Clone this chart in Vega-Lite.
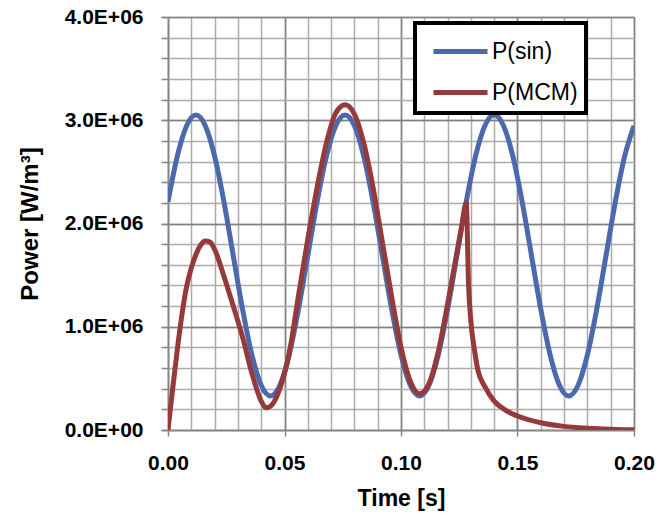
{
  "$schema": "https://vega.github.io/schema/vega-lite/v6.json",
  "width": 466,
  "height": 413,
  "autosize": {"type": "none"},
  "padding": {"left": 168, "top": 17, "right": 38, "bottom": 92},
  "background": "white",
  "config": {
    "view": {"stroke": null},
    "font": "Liberation Sans",
    "legend": {"strokeWidth": 4}
  },
  "data": {
    "values": [
      {"t": 0.000, "P": 2210500, "s": "P(sin)"},
      {"t": 0.004, "P": 2651700, "s": "P(sin)"},
      {"t": 0.008, "P": 2946500, "s": "P(sin)"},
      {"t": 0.012, "P": 3050000, "s": "P(sin)"},
      {"t": 0.016, "P": 2946500, "s": "P(sin)"},
      {"t": 0.020, "P": 2651700, "s": "P(sin)"},
      {"t": 0.024, "P": 2210500, "s": "P(sin)"},
      {"t": 0.028, "P": 1690000, "s": "P(sin)"},
      {"t": 0.032, "P": 1169500, "s": "P(sin)"},
      {"t": 0.036, "P": 728300, "s": "P(sin)"},
      {"t": 0.040, "P": 433500, "s": "P(sin)"},
      {"t": 0.044, "P": 330000, "s": "P(sin)"},
      {"t": 0.048, "P": 433500, "s": "P(sin)"},
      {"t": 0.052, "P": 728300, "s": "P(sin)"},
      {"t": 0.056, "P": 1169500, "s": "P(sin)"},
      {"t": 0.060, "P": 1690000, "s": "P(sin)"},
      {"t": 0.064, "P": 2210500, "s": "P(sin)"},
      {"t": 0.068, "P": 2651700, "s": "P(sin)"},
      {"t": 0.072, "P": 2946500, "s": "P(sin)"},
      {"t": 0.076, "P": 3050000, "s": "P(sin)"},
      {"t": 0.080, "P": 2946500, "s": "P(sin)"},
      {"t": 0.084, "P": 2651700, "s": "P(sin)"},
      {"t": 0.088, "P": 2210500, "s": "P(sin)"},
      {"t": 0.092, "P": 1690000, "s": "P(sin)"},
      {"t": 0.096, "P": 1169500, "s": "P(sin)"},
      {"t": 0.100, "P": 728300, "s": "P(sin)"},
      {"t": 0.104, "P": 433500, "s": "P(sin)"},
      {"t": 0.108, "P": 330000, "s": "P(sin)"},
      {"t": 0.112, "P": 433500, "s": "P(sin)"},
      {"t": 0.116, "P": 728300, "s": "P(sin)"},
      {"t": 0.120, "P": 1169500, "s": "P(sin)"},
      {"t": 0.124, "P": 1690000, "s": "P(sin)"},
      {"t": 0.128, "P": 2210500, "s": "P(sin)"},
      {"t": 0.132, "P": 2651700, "s": "P(sin)"},
      {"t": 0.136, "P": 2946500, "s": "P(sin)"},
      {"t": 0.140, "P": 3050000, "s": "P(sin)"},
      {"t": 0.144, "P": 2946500, "s": "P(sin)"},
      {"t": 0.148, "P": 2651700, "s": "P(sin)"},
      {"t": 0.152, "P": 2210500, "s": "P(sin)"},
      {"t": 0.156, "P": 1690000, "s": "P(sin)"},
      {"t": 0.160, "P": 1169500, "s": "P(sin)"},
      {"t": 0.164, "P": 728300, "s": "P(sin)"},
      {"t": 0.168, "P": 433500, "s": "P(sin)"},
      {"t": 0.172, "P": 330000, "s": "P(sin)"},
      {"t": 0.176, "P": 433500, "s": "P(sin)"},
      {"t": 0.180, "P": 728300, "s": "P(sin)"},
      {"t": 0.184, "P": 1169500, "s": "P(sin)"},
      {"t": 0.188, "P": 1690000, "s": "P(sin)"},
      {"t": 0.192, "P": 2210500, "s": "P(sin)"},
      {"t": 0.196, "P": 2651700, "s": "P(sin)"},
      {"t": 0.200, "P": 2946500, "s": "P(sin)"},
      {"t": 0.000, "P": 0, "s": "P(MCM)"},
      {"t": 0.002, "P": 400000, "s": "P(MCM)"},
      {"t": 0.004, "P": 780000, "s": "P(MCM)"},
      {"t": 0.006, "P": 1120000, "s": "P(MCM)"},
      {"t": 0.008, "P": 1390000, "s": "P(MCM)"},
      {"t": 0.010, "P": 1570000, "s": "P(MCM)"},
      {"t": 0.012, "P": 1700000, "s": "P(MCM)"},
      {"t": 0.014, "P": 1790000, "s": "P(MCM)"},
      {"t": 0.016, "P": 1830000, "s": "P(MCM)"},
      {"t": 0.018, "P": 1820000, "s": "P(MCM)"},
      {"t": 0.020, "P": 1750000, "s": "P(MCM)"},
      {"t": 0.024, "P": 1490000, "s": "P(MCM)"},
      {"t": 0.028, "P": 1200000, "s": "P(MCM)"},
      {"t": 0.032, "P": 900000, "s": "P(MCM)"},
      {"t": 0.036, "P": 550000, "s": "P(MCM)"},
      {"t": 0.040, "P": 280000, "s": "P(MCM)"},
      {"t": 0.042, "P": 215000, "s": "P(MCM)"},
      {"t": 0.044, "P": 230000, "s": "P(MCM)"},
      {"t": 0.048, "P": 400000, "s": "P(MCM)"},
      {"t": 0.052, "P": 740000, "s": "P(MCM)"},
      {"t": 0.056, "P": 1300000, "s": "P(MCM)"},
      {"t": 0.060, "P": 1850000, "s": "P(MCM)"},
      {"t": 0.064, "P": 2350000, "s": "P(MCM)"},
      {"t": 0.068, "P": 2780000, "s": "P(MCM)"},
      {"t": 0.072, "P": 3070000, "s": "P(MCM)"},
      {"t": 0.076, "P": 3150000, "s": "P(MCM)"},
      {"t": 0.080, "P": 3060000, "s": "P(MCM)"},
      {"t": 0.084, "P": 2780000, "s": "P(MCM)"},
      {"t": 0.088, "P": 2350000, "s": "P(MCM)"},
      {"t": 0.092, "P": 1820000, "s": "P(MCM)"},
      {"t": 0.096, "P": 1290000, "s": "P(MCM)"},
      {"t": 0.100, "P": 800000, "s": "P(MCM)"},
      {"t": 0.104, "P": 470000, "s": "P(MCM)"},
      {"t": 0.108, "P": 350000, "s": "P(MCM)"},
      {"t": 0.112, "P": 450000, "s": "P(MCM)"},
      {"t": 0.116, "P": 760000, "s": "P(MCM)"},
      {"t": 0.120, "P": 1220000, "s": "P(MCM)"},
      {"t": 0.124, "P": 1720000, "s": "P(MCM)"},
      {"t": 0.126, "P": 1970000, "s": "P(MCM)"},
      {"t": 0.128, "P": 2200000, "s": "P(MCM)"},
      {"t": 0.129, "P": 1400000, "s": "P(MCM)"},
      {"t": 0.130, "P": 1050000, "s": "P(MCM)"},
      {"t": 0.1315, "P": 780000, "s": "P(MCM)"},
      {"t": 0.133, "P": 580000, "s": "P(MCM)"},
      {"t": 0.136, "P": 420000, "s": "P(MCM)"},
      {"t": 0.140, "P": 280000, "s": "P(MCM)"},
      {"t": 0.145, "P": 190000, "s": "P(MCM)"},
      {"t": 0.150, "P": 135000, "s": "P(MCM)"},
      {"t": 0.160, "P": 70000, "s": "P(MCM)"},
      {"t": 0.170, "P": 35000, "s": "P(MCM)"},
      {"t": 0.180, "P": 18000, "s": "P(MCM)"},
      {"t": 0.190, "P": 8000, "s": "P(MCM)"},
      {"t": 0.200, "P": 3000, "s": "P(MCM)"}
    ]
  },
  "resolve": {"axis": {"x": "independent", "y": "independent"}},
  "layer": [
    {
      "transform": [{"filter": "datum.s == 'P(sin)'"}],
      "mark": {"type": "line", "interpolate": "monotone", "strokeWidth": 5, "clip": true},
      "encoding": {
        "x": {
          "field": "t", "type": "quantitative",
          "scale": {"domain": [0, 0.2], "nice": false, "zero": false},
          "axis": {
            "orient": "bottom", "title": null, "labels": false, "ticks": false, "domain": false,
            "values": [0, 0.01, 0.02, 0.03, 0.04, 0.05, 0.06, 0.07, 0.08, 0.09, 0.1, 0.11, 0.12, 0.13, 0.14, 0.15, 0.16, 0.17, 0.18, 0.19, 0.2],
            "grid": true, "gridColor": "#ababab", "gridWidth": 1.5, "gridOpacity": 1
          }
        },
        "y": {
          "field": "P", "type": "quantitative",
          "scale": {"domain": [0, 4000000], "nice": false},
          "axis": {
            "orient": "left", "title": null, "labels": false, "domain": false,
            "ticks": true, "tickSize": 7, "tickColor": "#868686", "tickWidth": 1.5,
            "values": [0, 200000, 400000, 600000, 800000, 1000000, 1200000, 1400000, 1600000, 1800000, 2000000, 2200000, 2400000, 2600000, 2800000, 3000000, 3200000, 3400000, 3600000, 3800000, 4000000],
            "grid": true, "gridColor": "#ababab", "gridWidth": 1.5, "gridOpacity": 1
          }
        },
        "color": {
          "field": "s", "type": "nominal",
          "scale": {"domain": ["P(sin)", "P(MCM)"], "range": ["#4d69ad", "#953a3a"]},
          "legend": {
            "title": null, "orient": "none", "legendX": 247, "legendY": 6,
            "fillColor": "white", "strokeColor": "black", "padding": 8,
            "symbolType": "M-1.5,0H1.5", "symbolStrokeWidth": 5, "symbolSize": 1296,
            "symbolOffset": 17,
            "labelFontSize": 23, "labelFont": "Liberation Sans", "labelColor": "black",
            "labelOffset": 11, "rowPadding": 8
          }
        }
      }
    },
    {
      "transform": [{"filter": "datum.s == 'P(MCM)'"}],
      "mark": {"type": "line", "interpolate": "monotone", "strokeWidth": 5, "clip": true},
      "encoding": {
        "x": {
          "field": "t", "type": "quantitative",
          "axis": {
            "orient": "bottom", "title": "Time [s]",
            "values": [0, 0.05, 0.1, 0.15, 0.2], "format": ".2f", "labelFlush": false,
            "labelFontSize": 21, "labelFontWeight": "bold", "labelColor": "black", "labelFont": "Liberation Sans",
            "labelPadding": 16, "tickSize": 6, "tickColor": "#868686", "tickWidth": 1.5,
            "domainColor": "#868686", "domainWidth": 1.5,
            "titleFontSize": 23, "titleFontWeight": "bold", "titleColor": "black", "titleFont": "Liberation Sans", "titlePadding": 14,
            "grid": true, "gridColor": "#808080", "gridWidth": 1.5, "gridOpacity": 1
          }
        },
        "y": {
          "field": "P", "type": "quantitative",
          "axis": {
            "orient": "left", "title": "Power [W/m³]",
            "values": [0, 1000000, 2000000, 3000000, 4000000], "labelFlush": false,
            "labelExpr": "datum.value == 0 ? '0.0E+00' : format(datum.value / 1000000, '.1f') + 'E+06'",
            "labelFontSize": 21, "labelFontWeight": "bold", "labelColor": "black", "labelFont": "Liberation Sans",
            "labelPadding": 18, "tickSize": 7, "tickColor": "#868686", "tickWidth": 1.5,
            "domainColor": "#868686", "domainWidth": 1.5,
            "titleFontSize": 24, "titleFontWeight": "bold", "titleColor": "black", "titleFont": "Liberation Sans", "titlePadding": 22,
            "grid": true, "gridColor": "#808080", "gridWidth": 1.5, "gridOpacity": 1
          }
        },
        "color": {"field": "s", "type": "nominal"}
      }
    }
  ]
}
